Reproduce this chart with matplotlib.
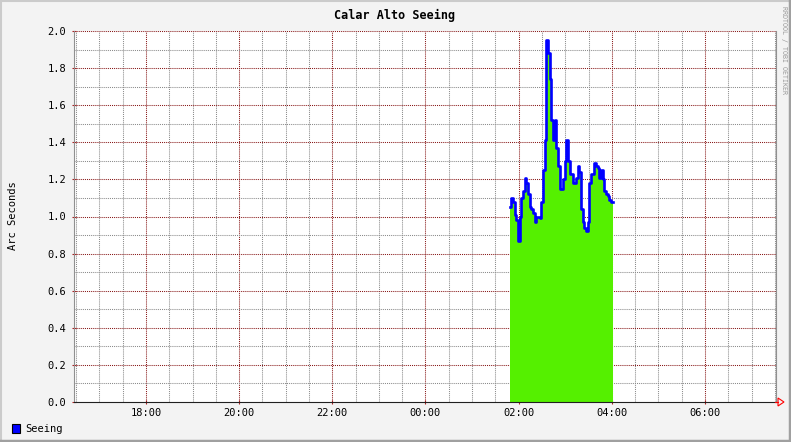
import matplotlib
matplotlib.use('Agg')
import matplotlib.pyplot as plt
from matplotlib.patches import Rectangle, Polygon
from matplotlib.lines import Line2D
import numpy as np

matplotlib.rcParams['font.family'] = 'DejaVu Sans Mono'

# ---- data (hours since midnight of first day; 24+ = next day) ----
tick_hours = [18, 20, 22, 24, 26, 28, 30]
tick_labels = ["18:00", "20:00", "22:00", "00:00", "02:00", "04:00", "06:00"]
start_hour = 25.81     # ~01:49
sample_step = 0.0356   # hours between samples
seeing = [1.05, 1.10, 1.08, 1.01, 0.98, 0.87, 1.00, 1.10, 1.14, 1.21,
          1.18, 1.12, 1.05, 1.04, 1.02, 0.97, 1.00, 1.00, 0.99, 1.08,
          1.25, 1.41, 1.95, 1.88, 1.74, 1.52, 1.41, 1.52, 1.37, 1.27,
          1.15, 1.15, 1.20, 1.30, 1.41, 1.30, 1.23, 1.23, 1.18, 1.18,
          1.21, 1.27, 1.24, 1.04, 0.97, 0.94, 0.92, 0.97, 1.18, 1.23,
          1.23, 1.29, 1.27, 1.26, 1.21, 1.25, 1.20, 1.14, 1.12, 1.11,
          1.09, 1.08]

W, H = 791, 442
fig = plt.figure(figsize=(W/100., H/100.), dpi=100, facecolor="#f3f3f3")

def fx(px):
    return px/float(W)
def fy(py):
    return 1 - py/float(H)

# 3d-ish border
fig.add_artist(Line2D([0, 1], [fy(0.5), fy(0.5)], color="#cbcbcb", lw=1.5))
fig.add_artist(Line2D([fx(0.5), fx(0.5)], [0, 1], color="#cbcbcb", lw=1.5))
fig.add_artist(Line2D([0, 1], [fy(441), fy(441)], color="#a0a0a0", lw=2.5))
fig.add_artist(Line2D([fx(790), fx(790)], [0, 1], color="#a0a0a0", lw=2.5))

ax = fig.add_axes([fx(74), fy(402), fx(775.5) - fx(74), fy(31) - fy(402)])
ax.set_facecolor("white")

n = len(seeing)
ts = start_hour + sample_step*np.arange(n + 1)
vals = np.append(seeing, seeing[-1])
ax.fill_between(ts, 0, vals, step="post", color="#55f000", lw=0, zorder=2)
ax.plot(ts, vals, drawstyle="steps-post", color="#0000ff", lw=1.9, zorder=3)

ax.set_xlim(16.454, 31.514)
ax.set_ylim(0, 2.0)

# grid
dot = (0, (1, 1))
for h in np.arange(16.5, 31.6, 0.5):
    if h in tick_hours:
        ax.axvline(h, color="#881818", lw=0.75, ls=dot, zorder=1)
    else:
        ax.axvline(h, color="#8a8a8a", lw=0.75, ls=dot, zorder=1)
for v in np.arange(0.1, 2.01, 0.1):
    if int(round(v*10)) % 2 == 0:
        ax.axhline(v, color="#881818", lw=0.75, ls=dot, zorder=1)
    else:
        ax.axhline(v, color="#8a8a8a", lw=0.75, ls=dot, zorder=1)

ax.set_xticks(tick_hours)
ax.set_xticklabels(tick_labels, fontsize=7.5)
yt = np.arange(0, 2.01, 0.2)
ax.set_yticks(yt)
ax.set_yticklabels(["%.1f" % v for v in yt], fontsize=7.5)
ax.tick_params(axis="x", length=3, direction="inout", color="#aa2020", pad=3)
ax.tick_params(axis="y", length=3, direction="inout", color="#aa2020", pad=4)

ax.spines["top"].set_visible(False)
ax.spines["left"].set_color("#909090")
ax.spines["right"].set_color("#909090")
ax.spines["bottom"].set_color("#202020")
for s in ax.spines.values():
    s.set_linewidth(0.8)

# arrow at end of x axis
fig.add_artist(Line2D([fx(775), fx(778)], [fy(402), fy(402)], color="red", lw=0.8))
fig.add_artist(Polygon([[fx(778), fy(398)], [fx(778), fy(406)], [fx(784), fy(402)]],
                       closed=True, fill=False, edgecolor="red", lw=0.8,
                       transform=fig.transFigure))

fig.text(fx(395), fy(15), "Calar Alto Seeing", ha="center", va="center",
         fontsize=8.5, fontweight="bold")
fig.text(fx(13), fy(216), "Arc Seconds", rotation=90, ha="center", va="center",
         fontsize=7.5)
fig.text(fx(784), fy(6), "RRDTOOL / TOBI OETIKER", rotation=270, ha="center",
         va="top", fontsize=4.8, color="#999999")

fig.add_artist(Rectangle((fx(12), fy(433)), fx(8), fy(424) - fy(433),
                         facecolor="#0000ff", edgecolor="black", lw=0.8,
                         transform=fig.transFigure))
fig.text(fx(25), fy(428.5), "Seeing", ha="left", va="center", fontsize=7.5)

fig.savefig("out.png", dpi=100, facecolor=fig.get_facecolor())
